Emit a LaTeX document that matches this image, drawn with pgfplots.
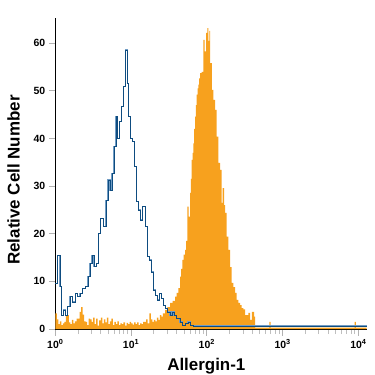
\documentclass[border=0pt]{standalone}
\usepackage{fontspec}
\setmainfont{Liberation Sans}
\usepackage{pgfplots}
\pgfplotsset{compat=1.18}
\definecolor{orangec}{RGB}{247,161,30}
\definecolor{bluedark}{RGB}{14,76,128}
\definecolor{bluelight}{RGB}{112,156,196}
\pgfplotstableread{
l v
0.000 3.3
0.020 2.0
0.040 1.0
0.060 1.6
0.080 0.8
0.100 1.2
0.120 1.5
0.140 2.9
0.160 2.9
0.180 1.4
0.200 1.0
0.220 1.9
0.240 1.2
0.260 1.6
0.280 2.2
0.300 2.2
0.320 3.6
0.340 4.6
0.360 3.0
0.380 1.6
0.400 1.5
0.420 0.8
0.440 2.2
0.460 2.0
0.480 1.5
0.500 2.4
0.520 1.0
0.540 2.2
0.560 0.7
0.580 1.8
0.600 2.4
0.620 1.2
0.640 2.0
0.660 1.4
0.680 2.4
0.700 1.0
0.720 1.6
0.740 2.2
0.760 0.8
0.780 1.5
0.800 1.0
0.820 1.6
0.840 0.8
0.860 1.2
0.880 1.0
0.900 1.4
0.920 0.7
0.940 1.3
0.960 1.0
0.980 1.5
1.000 1.2
1.020 0.9
1.040 1.4
1.060 1.0
1.080 1.4
1.100 0.8
1.120 1.2
1.140 1.0
1.160 1.5
1.180 1.5
1.200 2.0
1.220 1.2
1.240 3.3
1.260 2.0
1.280 1.5
1.300 1.9
1.320 1.6
1.340 2.4
1.360 1.9
1.380 2.9
1.400 2.6
1.420 3.3
1.448 4.0
1.480 4.6
1.514 5.5
1.547 5.9
1.580 6.8
1.602 7.6
1.624 8.6
1.646 11.0
1.662 12.6
1.677 14.5
1.695 15.6
1.712 16.6
1.728 18.5
1.743 25.7
1.761 23.6
1.778 28.6
1.790 31.5
1.800 35.5
1.811 37.0
1.822 39.0
1.833 42.0
1.844 44.6
1.855 47.0
1.866 49.2
1.877 50.5
1.888 51.3
1.899 52.6
1.910 53.7
1.932 54.0
1.954 60.7
1.972 58.3
1.989 62.2
2.007 63.2
2.020 60.5
2.033 62.6
2.042 55.8
2.068 50.2
2.086 48.1
2.108 46.0
2.130 40.4
2.152 34.9
2.174 33.4
2.196 26.5
2.209 29.6
2.227 26.0
2.240 24.4
2.262 19.4
2.284 16.6
2.306 13.0
2.328 9.7
2.350 8.8
2.372 7.6
2.394 6.1
2.416 5.5
2.438 5.0
2.460 4.4
2.482 4.1
2.504 2.9
2.548 3.4
2.570 1.9
2.593 3.6
2.623 2.6
2.636 0.3
2.826 1.5
2.842 0.3
3.950 1.5
3.966 0.3
4.110 0.3
}\orangedata
\pgfplotstableread{
l v
0.000 9.6
0.026 15.5
0.062 8.9
0.079 2.9
0.106 4.0
0.132 2.9
0.158 4.7
0.194 6.8
0.229 5.7
0.264 7.5
0.290 6.8
0.326 7.5
0.361 8.5
0.396 8.9
0.431 11.0
0.458 13.8
0.484 15.5
0.510 13.1
0.546 13.8
0.572 20.0
0.598 23.2
0.634 21.5
0.669 27.0
0.695 31.3
0.722 29.2
0.748 32.7
0.774 38.3
0.801 44.6
0.818 40.0
0.845 43.6
0.871 46.7
0.898 50.9
0.924 58.6
0.950 51.6
0.968 44.6
0.995 40.0
1.021 39.4
1.047 34.1
1.074 26.8
1.100 25.0
1.127 22.9
1.153 25.7
1.188 21.5
1.215 15.2
1.241 14.5
1.267 12.0
1.294 8.2
1.320 7.1
1.347 6.1
1.373 7.5
1.399 6.4
1.426 5.0
1.452 4.3
1.479 3.6
1.514 2.9
1.540 3.6
1.567 2.9
1.602 2.2
1.646 1.5
1.681 0.8
1.716 1.2
1.751 1.5
1.787 0.7
1.822 0.6
4.110 0.6
}\bluedata
\begin{document}
\begin{tikzpicture}
\begin{axis}[
  at={(0,0)}, anchor=south west,
  scale only axis, width=311.4bp, height=311bp,
  xmin=0, xmax=4.11, ymin=0, ymax=65.3,
  axis x line*=bottom, axis y line*=left,
  axis line style={black, line width=0.8pt},
  xtick={0,1,2,3,4},
  xticklabels={10\textsuperscript{0},10\textsuperscript{1},10\textsuperscript{2},10\textsuperscript{3},10\textsuperscript{4}},
  minor xtick={0.301,0.477,0.602,0.699,0.778,0.845,0.903,0.954,
    1.301,1.477,1.602,1.699,1.778,1.845,1.903,1.954,
    2.301,2.477,2.602,2.699,2.778,2.845,2.903,2.954,
    3.301,3.477,3.602,3.699,3.778,3.845,3.903,3.954},
  ytick={0,10,20,30,40,50,60},
  tick align=outside,
  major tick length=6.5bp, minor tick length=5bp,
  major tick style={gray!60, line width=0.9pt},
  minor tick style={gray!50, line width=0.9pt},
  /pgf/number format/assume math mode=true,
  tick label style={font=\bfseries\fontsize{10.5}{12}\selectfont, black},
  xlabel={Allergin-1}, ylabel={Relative Cell Number},
  label style={font=\bfseries\fontsize{17}{20}\selectfont},
  xlabel style={at={(axis description cs:0.485,-0.132)}, anchor=base},
  ylabel style={at={(axis description cs:-0.134,0.479)}, anchor=center},
  clip=false,
]
\addplot[const plot mark left, fill=orangec, draw=none] table[x=l, y=v] {\orangedata} \closedcycle;
\addplot[const plot mark left, bluelight, line width=1.3pt] table[x=l, y=v] {\bluedata};
\addplot[const plot mark left, bluedark, line width=0.6pt] table[x=l, y=v] {\bluedata};
\end{axis}
\pgfresetboundingbox
\path (-55.3bp,-46bp) rectangle (319.7bp,329bp);
\end{tikzpicture}
\end{document}
